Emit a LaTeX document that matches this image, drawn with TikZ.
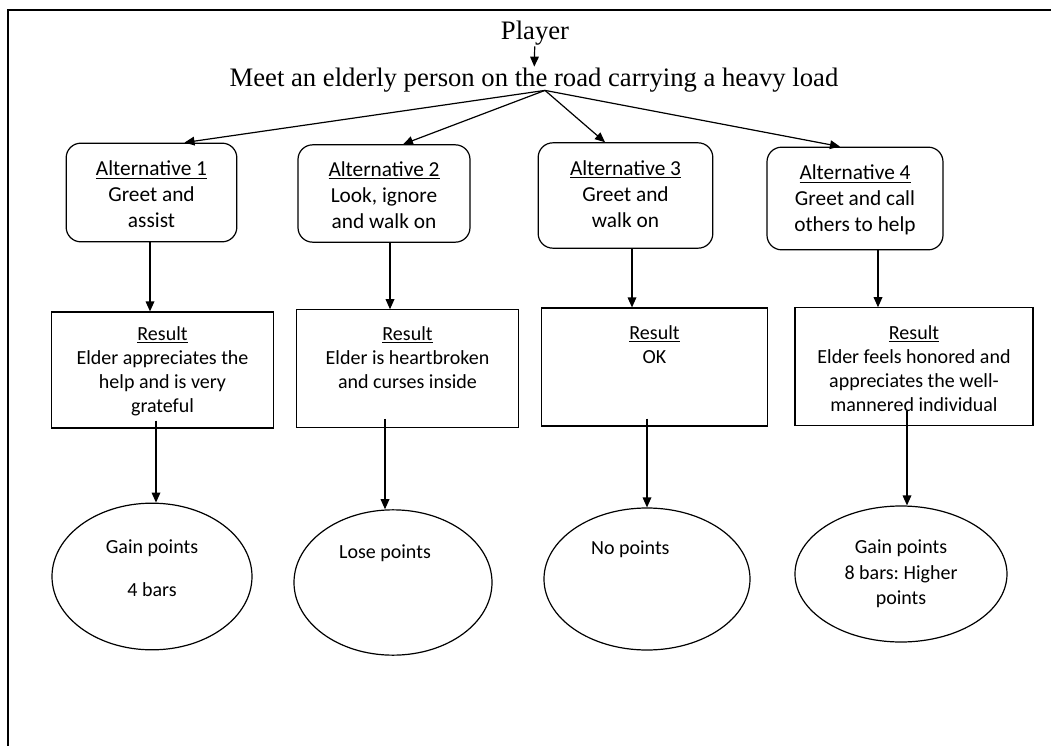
\documentclass[tikz,border=0pt]{standalone}
\usepackage{fontspec}
\setmainfont{Liberation Serif}
\newfontfamily\calibri{Carlito}
\usetikzlibrary{shapes.geometric}
\usetikzlibrary{arrows.meta}
\usetikzlibrary{positioning}
\usetikzlibrary{calc}
\frenchspacing

% text block of fixed size, set from the top
\newcommand{\boxtext}[4]{\begin{minipage}[c][#2][t]{#1}\centering\vspace*{#3}#4\end{minipage}}

\begin{document}
\begin{tikzpicture}[x=0.75pt, y=-0.75pt, line width=0.9pt,
  >={Triangle[length=7.5pt,width=6.5pt]},
  title/.style={font=\fontsize{20}{23}\selectfont, inner sep=0.5pt},
  altbox/.style={draw, rounded corners=11pt, inner sep=0pt, font=\calibri\fontsize{16}{19.5}\selectfont},
  resbox/.style={draw, inner sep=0pt, font=\calibri\fontsize{15}{18}\selectfont},
  endoval/.style={draw, ellipse, inner sep=0pt, font=\calibri\fontsize{15}{19}\selectfont}]
\useasboundingbox (0,0) rectangle (1051,746);
\draw[line width=1.1pt] (1051,10) -- (8,10) -- (8,746);

% top
\node[title] (player) at (535,33) {Player};
\node[title] (meet) at (534,80) {Meet an elderly person on the road carrying a heavy load};
\coordinate (fork) at ($(meet.south)+(11,-3)$);
\draw[->] (player) -- (meet);

% alternatives
\node[altbox] (alt1) at (151.5,192.5) {\boxtext{128pt}{74pt}{13.5pt}{\underline{Alternative 1}\\Greet and\\assist}};
\node[altbox] (alt2) at (384,193.5) {\boxtext{129pt}{73pt}{12.5pt}{\underline{Alternative 2}\\Look, ignore\\and walk on}};
\node[altbox] (alt3) at (625.5,195.5) {\boxtext{131pt}{79pt}{13.5pt}{\underline{Alternative 3}\\Greet and\\walk on}};
\node[altbox] (alt4) at (855,198.5) {\boxtext{132pt}{77pt}{13.5pt}{\underline{Alternative 4}\\Greet and call\\others to help}};

\draw[->] (fork) -- ($(alt1.north)+(33,0)$);
\draw[->] (fork) -- ($(alt2.north)+(19,0)$);
\draw[->] (fork) -- ($(alt3.north)+(-20.5,0)$);
\draw[->] (fork) -- ($(alt4.north)+(-15,0)$);

% results
\node[resbox] (res1) at (162.5,370) {\boxtext{166pt}{87pt}{11pt}{\underline{Result}\\Elder appreciates the\\help and is very\\grateful}};
\node[resbox] (res2) at (407.5,368.5) {\boxtext{166pt}{88pt}{12.5pt}{\underline{Result}\\Elder is heartbroken\\and curses inside}};
\node[resbox] (res3) at (654.5,367) {\boxtext{169pt}{88.5pt}{13pt}{\underline{Result}\\OK}};
\node[resbox] (res4) at (914,366.5) {\boxtext{178.5pt}{88pt}{13pt}{\underline{Result}\\Elder feels honored and\\appreciates the well-\\mannered individual}};

\coordinate (a1) at ($(alt1.south)+(-1.5,0)$);
\coordinate (a2) at ($(alt2.south)+(6,0)$);
\coordinate (a3) at ($(alt3.south)+(6.5,0)$);
\coordinate (a4) at ($(alt4.south)+(23,0)$);
\draw[->] (a1) -- (a1 |- res1.north);
\draw[->] (a2) -- (a2 |- res2.north);
\draw[->] (a3) -- (a3 |- res3.north);
\draw[->] (a4) -- (a4 |- res4.north);

% points
\node[endoval, minimum width=150pt, minimum height=110pt] (ell1) at (152,576.5) {\boxtext{100pt}{76pt}{10.5pt}{Gain points\\[13pt]4 bars}};
\node[endoval, minimum width=148.5pt, minimum height=109pt] (ell2) at (393,582.5) {\boxtext{100pt}{75pt}{9.5pt}{\hspace*{-12pt}Lose points}};
\node[endoval, minimum width=154.5pt, minimum height=106.5pt] (ell3) at (647,579) {\boxtext{100pt}{73pt}{8pt}{\hspace*{-25pt}No points}};
\node[endoval, minimum width=159pt, minimum height=102pt] (ell4) at (901,574) {\boxtext{105pt}{70pt}{9.5pt}{Gain points\\8 bars: Higher\\points}};

\coordinate (r1) at ($(res1.south)+(-6.5,-8)$);
\coordinate (r2) at ($(res2.south)+(-22.5,-9)$);
\coordinate (r3) at ($(res3.south)+(-7.5,-8)$);
\coordinate (r4) at ($(res4.south)+(-7,-15)$);
\draw[->] (r1) -- (r1 |- ell1.north);
\draw[->] (r2) -- (r2 |- ell2.north);
\draw[->] (r3) -- (r3 |- ell3.north);
\draw[->] (r4) -- (r4 |- ell4.north);
\end{tikzpicture}
\end{document}
